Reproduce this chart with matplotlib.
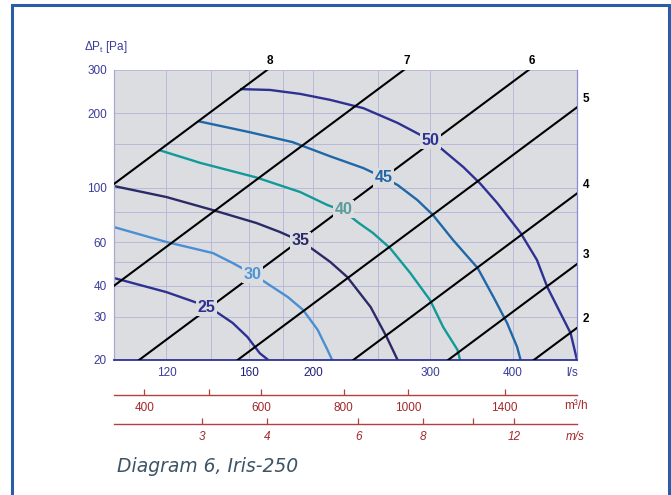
import numpy as np
import matplotlib.pyplot as plt
from matplotlib.lines import Line2D
from matplotlib.ticker import NullLocator

plt.rcParams['font.family'] = ['Liberation Sans', 'DejaVu Sans']
plt.rcParams['mathtext.fontset'] = 'custom'
plt.rcParams['mathtext.rm'] = 'Liberation Sans'
plt.rcParams['mathtext.default'] = 'regular'

# damper positions: dp = k * (q / 100 l/s)^2
line_names = ['2', '3', '4', '5', '6', '7', '8']
line_k = [1.08, 1.96, 3.79, 8.47, 16.8, 40.0, 103.5]

# sound level curves, dB(A)  (q in l/s, p in Pa)
q25 = [100, 120, 133.5, 138, 143.6, 151, 159, 166, 171]
p25 = [43.0, 37.7, 34.1, 32.8, 31.0, 28.3, 24.8, 21.3, 20]
q30 = [100, 120, 141, 151, 162, 170, 183, 193, 203, 210, 213.5]
p30 = [69.2, 60.2, 54.3, 49.5, 44.6, 41.0, 36.0, 31.9, 26.5, 22.0, 20]
q35 = [100, 120, 141, 164, 178, 191, 200, 212, 225, 244, 258, 268]
p35 = [101.5, 91.6, 81.1, 71.9, 66.1, 60.8, 56.0, 50.0, 43.4, 32.8, 24.8, 20]
q40 = [117, 135, 164, 191, 210, 222, 234, 246, 261, 280, 300, 314, 330, 333]
p40 = [142, 126, 110, 96.0, 85.0, 80.5, 72.0, 65.5, 56.9, 45.1, 35.0, 27.2, 22.0, 20]
q45 = [134, 160, 186, 212, 238, 255, 268, 287, 303, 325, 354, 374, 392, 406, 411]
p45 = [186, 168, 153, 134, 120, 110, 102.5, 89.1, 77.5, 61.3, 47.2, 36.0, 28.3, 22.6, 20]
q50 = [155, 172, 191, 212, 238, 268, 300, 311, 337, 357, 379, 411, 435, 451, 472, 489, 500]
p50 = [251, 249, 240, 227, 210, 183, 156, 145, 121, 104, 86.6, 65.5, 50.9, 39.5, 31.0, 25.7, 20]

levels = ['25', '30', '35', '40', '45', '50']
level_q = [138, 162, 191, 222, 255, 300]
level_p = [32.8, 44.6, 60.8, 81.9, 110, 156]
level_colors = ['#2e3192', '#4a8fd4', '#2a2a66', '#12999a', '#2067a8', '#2e3192']
label_colors = ['#2e3192', '#4f95d6', '#2a2a66', '#5a9c9a', '#2067a8', '#2e3192']

# axis ticks
p_ticks = [20, 30, 40, 50, 60, 80, 100, 150, 200, 300]
p_labels = ['20', '30', '40', '', '60', '', '100', '', '200', '300']
q_ticks = [120, 140, 160, 180, 200, 250, 300, 400]
q_labels = ['120', '', '160', '', '200', '', '300', '400']
m3h_ticks = [400, 500, 600, 800, 1000, 1400]
m3h_labels = ['400', '', '600', '800', '1000', '1400']
vel_ticks = [3, 4, 6, 8, 10, 12]
vel_labels = ['3', '4', '6', '8', '', '12']
vel_flow = [136, 170, 234, 293, 348, 402]   # l/s at each velocity tick

blue_txt = '#3b3b9b'
red = '#b0413e'
red_txt = '#a3282a'
face = '#dcdde0'

fig = plt.figure(figsize=(6.71, 4.95), dpi=100)
ax = fig.add_axes([114 / 671, 135 / 495, 463 / 671, 290 / 495])
ax.set_facecolor(face)
ax.set_xscale('log')
ax.set_yscale('log')
ax.set_xlim(100, 500)
ax.set_ylim(20, 300)

ax.set_yticks(p_ticks, p_labels)
ax.set_xticks(q_ticks, q_labels)
ax.xaxis.set_minor_locator(NullLocator())
ax.yaxis.set_minor_locator(NullLocator())
ax.tick_params(axis='y', length=0, pad=5, labelsize=8.5, labelcolor=blue_txt)
ax.tick_params(axis='x', length=0, pad=5, labelsize=8.5, labelcolor=blue_txt)
for t in ax.get_xticklabels():
    if t.get_text() in ('160', '200'):
        t.set_color('#1f1f7a')
ax.grid(True, color='#b8b8da', lw=0.7)
ax.set_axisbelow(True)

ax.spines['top'].set_visible(False)
ax.spines['left'].set_color('#a8a8d4')
ax.spines['left'].set_linewidth(0.9)
ax.spines['right'].set_color('#8a8ad8')
ax.spines['right'].set_linewidth(0.9)
ax.spines['bottom'].set_color('#2e3192')
ax.spines['bottom'].set_linewidth(1.3)

# damper lines
qq = np.geomspace(100, 500, 50)
for name, k in zip(line_names, line_k):
    ax.plot(qq, k * (qq / 100) ** 2, color='black', lw=1.5, zorder=3)
    if k * 25 > 300:
        q_end = 100 * np.sqrt(300 / k)
        ax.annotate(name, (q_end, 300), xytext=(2, 2), textcoords='offset points',
                    ha='center', va='bottom', fontsize=8.5, fontweight='bold',
                    annotation_clip=False)
    else:
        ax.annotate(name, (500, k * 25), xytext=(4, 2), textcoords='offset points',
                    ha='left', va='bottom', fontsize=8.5, fontweight='bold',
                    annotation_clip=False)

# sound level curves
curves = [(q25, p25), (q30, p30), (q35, p35), (q40, p40), (q45, p45), (q50, p50)]
for (q, p), c in zip(curves, level_colors):
    ax.plot(q, p, color=c, lw=1.7, zorder=2.5, solid_capstyle='butt',
            solid_joinstyle='round')
for lab, x, y, c in zip(levels, level_q, level_p, label_colors):
    ax.text(x, y, lab, color=c, fontsize=11.5, fontweight='bold', ha='center',
            va='center', zorder=5,
            bbox=dict(boxstyle='square,pad=0.1', fc=face, ec='none'))

# second flow scale in m3/h
sec1 = ax.secondary_xaxis(-35 / 290, functions=(lambda q: q * 3.6, lambda m: m / 3.6))
sec1.set_xticks(m3h_ticks, m3h_labels)
sec1.xaxis.set_minor_locator(NullLocator())
sec1.spines['bottom'].set_color(red)
sec1.spines['bottom'].set_linewidth(1.0)
sec1.tick_params(direction='in', length=4, width=0.9, color=red,
                 labelcolor=red_txt, labelsize=8.5, pad=5)

# velocity scale, fitted from the tick pairs
fit = np.polyfit(np.log(vel_flow), np.log(vel_ticks), 1)


def q_to_v(q):
    q = np.maximum(np.asarray(q, dtype=float), 1e-9)
    return np.exp(np.polyval(fit, np.log(q)))


def v_to_q(v):
    v = np.maximum(np.asarray(v, dtype=float), 1e-9)
    return np.exp((np.log(v) - fit[1]) / fit[0])


sec2 = ax.secondary_xaxis(-64 / 290, functions=(q_to_v, v_to_q))
sec2.set_xticks(vel_ticks, vel_labels, fontstyle='italic')
sec2.xaxis.set_minor_locator(NullLocator())
sec2.spines['bottom'].set_color(red)
sec2.spines['bottom'].set_linewidth(1.0)
sec2.tick_params(direction='in', length=4, width=0.9, color=red,
                 labelcolor=red_txt, labelsize=8.5, pad=5)

# unit labels
ax.text(0.989, -0.045, 'l/s', transform=ax.transAxes, ha='center', va='center',
        fontsize=8.5, color=blue_txt)
ax.text(0.998, -0.158, 'm³/h', transform=ax.transAxes, ha='center', va='center',
        fontsize=8.5, color=red_txt)
ax.text(0.996, -0.266, 'm/s', transform=ax.transAxes, ha='center', va='center',
        fontsize=8.5, color=red_txt, style='italic')
fig.text(84 / 671, 1 - 47 / 495, r'ΔP$_t$ [Pa]', fontsize=8.5, color=blue_txt,
         va='center', ha='left')

fig.text(117 / 671, 1 - 466 / 495, 'Diagram 6, Iris-250', fontsize=13.5,
         style='italic', color='#3d5366', va='center', family='DejaVu Sans')

# frame
fig.add_artist(Line2D([12 / 671, 12 / 671, 669 / 671, 669 / 671],
                      [0, 1 - 5 / 495, 1 - 5 / 495, 0],
                      transform=fig.transFigure, color='#2a5ca8', lw=2.2,
                      solid_joinstyle='miter'))

fig.savefig('out.png', dpi=100)
